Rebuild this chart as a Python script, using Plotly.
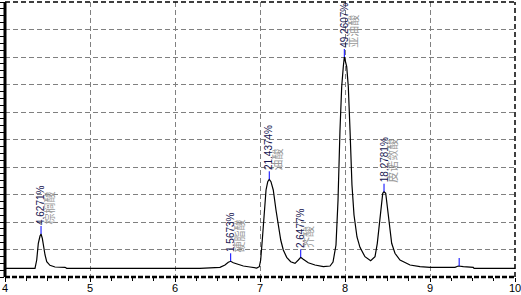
import plotly.graph_objects as go

# Chromatogram trace (retention time in min, signal in arbitrary units)
rt = [4.000, 4.176, 4.353, 4.373, 4.392, 4.412, 4.424, 4.439, 4.451, 4.471, 4.491, 4.529, 4.588, 4.706, 4.726,
      5.353, 5.941, 6.294, 6.529, 6.588, 6.627, 6.655, 6.686, 6.745, 6.804, 6.882, 6.961, 6.992,
      7.008, 7.027, 7.047, 7.071, 7.091, 7.109, 7.129, 7.156, 7.188, 7.215, 7.244, 7.274, 7.314, 7.361,
      7.412, 7.451, 7.479, 7.509, 7.568, 7.647, 7.745, 7.824, 7.859, 7.894, 7.918, 7.941, 7.961, 7.980,
      7.992, 8.020, 8.039, 8.059, 8.082, 8.106, 8.141, 8.176, 8.235, 8.302, 8.353, 8.380, 8.404, 8.424,
      8.444, 8.459, 8.479, 8.498, 8.521, 8.549, 8.588, 8.647, 8.765, 8.882, 9.000, 9.294, 9.333, 9.353,
      9.392, 9.509, 9.518, 10.000]
signal = [0.316, 0.316, 0.316, 0.618, 1.225, 1.491, 1.564, 1.407, 1.102, 0.800, 0.556, 0.425, 0.364, 0.353, 0.316,
          0.316, 0.316, 0.316, 0.353, 0.436, 0.535, 0.571, 0.520, 0.462, 0.400, 0.364, 0.327, 0.375,
          0.618, 1.345, 2.316, 3.164, 3.465, 3.553, 3.465, 3.164, 2.436, 1.829, 1.345, 0.982, 0.716, 0.556,
          0.498, 0.618, 0.716, 0.644, 0.520, 0.436, 0.375, 0.400, 0.545, 1.164, 2.800, 5.345, 6.920, 7.647,
          8.000, 7.647, 6.920, 5.345, 3.345, 2.255, 1.455, 1.080, 0.738, 0.593, 0.738, 1.225, 1.829, 2.556,
          3.044, 3.102, 3.044, 2.556, 1.829, 1.225, 0.862, 0.618, 0.436, 0.375, 0.353, 0.353, 0.400, 0.400,
          0.375, 0.353, 0.316, 0.316]

# Integrated peaks
peak_rt = [4.424, 6.655, 7.109, 7.479, 7.992, 8.459, 9.343]
peak_height = [1.564, 0.571, 3.553, 0.716, 8.000, 3.102, 0.400]
peak_pct = ["4.6271%", "1.5673%", "21.4374%", "2.6477%", "49.2607%", "18.2781%", ""]
peak_name = ["棕榈酸", "硬脂酸", "油酸", "芥酸", "亚油酸", "皮诺敛酸", ""]

x_ticks = [4, 5, 6, 7, 8, 9, 10]

fig = go.Figure()
fig.add_trace(go.Scatter(x=rt, y=signal, mode="lines",
                         line=dict(color="black", width=1.2), hoverinfo="skip"))

shapes = []
annotations = []
for xp, yp, pct, name in zip(peak_rt, peak_height, peak_pct, peak_name):
    shapes.append(dict(type="line", xref="x", yref="y", x0=xp, x1=xp,
                       ysizemode="pixel", yanchor=yp, y0=0, y1=8,
                       line=dict(color="#0000ff", width=1)))
    if pct:
        annotations.append(dict(x=xp, y=yp, xref="x", yref="y", text=pct, showarrow=False,
                                textangle=-90, xanchor="center", yanchor="bottom", yshift=8,
                                borderpad=0,
                                font=dict(family="Liberation Sans, Arial", size=10, color="#141450")))
        annotations.append(dict(x=xp, y=yp, xref="x", yref="y", text=name, showarrow=False,
                                textangle=-90, xanchor="center", yanchor="bottom", yshift=8, xshift=8,
                                borderpad=0,
                                font=dict(family="Noto Sans CJK SC", size=11, color="#999999")))

# x tick labels
for v in x_ticks:
    annotations.append(dict(x=v, y=0, xref="x", yref="paper", text=str(v), showarrow=False,
                            xanchor="center", yanchor="top", yshift=-4, borderpad=0,
                            font=dict(family="Liberation Sans, Arial", size=11, color="black")))

# frame
shapes += [
    dict(type="line", xref="paper", yref="paper", x0=0, x1=0, y0=0, y1=1,
         line=dict(color="black", width=3)),
    dict(type="line", xref="paper", yref="paper", x0=0, x1=1, y0=0, y1=0,
         line=dict(color="black", width=2.5, dash="5px,2px")),
    dict(type="line", xref="paper", yref="paper", x0=0, x1=1, y0=1, y1=1,
         line=dict(color="black", width=1.5, dash="5px,3px")),
    dict(type="line", xref="paper", yref="paper", x0=1, x1=1, y0=0, y1=1,
         line=dict(color="black", width=1.5, dash="5px,3px")),
]

fig.update_layout(
    width=521, height=295,
    margin=dict(l=5, r=6, t=2, b=18),
    paper_bgcolor="white", plot_bgcolor="white",
    showlegend=False,
    shapes=shapes, annotations=annotations,
    xaxis=dict(range=[4, 10], tickvals=x_ticks, showticklabels=False,
               showgrid=True, gridcolor="#808080", gridwidth=1, griddash="5px,3px",
               zeroline=False, showline=False, automargin=False,
               ticks="outside", ticklen=4, tickcolor="black", tickwidth=1,
               minor=dict(dtick=0.25, ticks="outside", ticklen=3, tickcolor="black", showgrid=False)),
    yaxis=dict(range=[0, 10], dtick=1, tick0=0,
               showgrid=True, gridcolor="#808080", gridwidth=1, griddash="5px,3px",
               zeroline=False, showline=False, showticklabels=False, automargin=False,
               ticks="outside", ticklen=4, tickcolor="black", tickwidth=1,
               minor=dict(dtick=0.25, ticks="outside", ticklen=4, tickcolor="black", showgrid=False)),
)

fig.write_html("out.html")
